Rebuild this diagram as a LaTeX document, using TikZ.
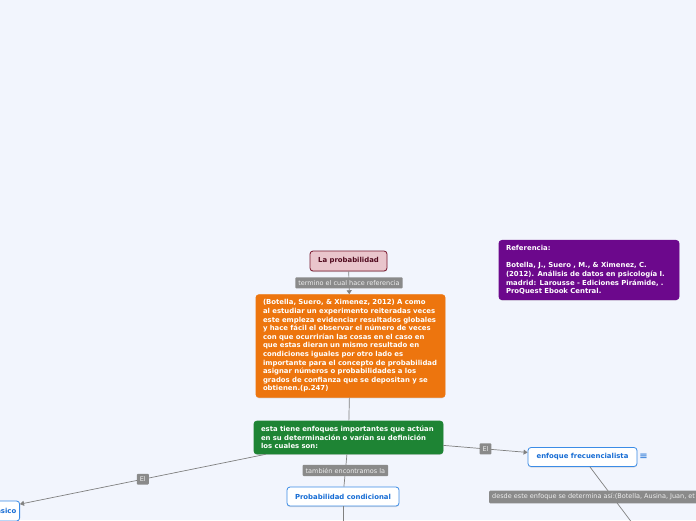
\documentclass[tikz,border=0pt]{standalone}
\usepackage{fontspec}
\setmainfont{DejaVu Sans}
\usetikzlibrary{arrows.meta,shadows}
\definecolor{pagebg}{RGB}{242,245,253}
\definecolor{linkgray}{RGB}{128,128,128}
\definecolor{lblgray}{RGB}{138,138,138}
\definecolor{lbltext}{RGB}{238,238,238}
\definecolor{rosefill}{RGB}{233,197,204}
\definecolor{rosedraw}{RGB}{120,22,45}
\definecolor{rosetext}{RGB}{80,10,30}
\definecolor{orangebox}{RGB}{237,117,14}
\definecolor{greenbox}{RGB}{30,132,52}
\definecolor{purplebox}{RGB}{108,8,140}
\definecolor{bluedraw}{RGB}{60,140,230}
\definecolor{bluetext}{RGB}{22,108,212}

\begin{document}
\begin{tikzpicture}[x=1pt,y=-1pt,
  box/.style={rectangle,rounded corners=3pt,line width=0.8pt,
    font=\fontsize{6.9}{8.6}\selectfont\bfseries,
    drop shadow={shadow xshift=0pt,shadow yshift=-1pt,opacity=0.25}},
  txtbox/.style n args={2}{box,draw=#1,fill=#1,text=white,text width=#2,
    align=left,inner xsep=7pt,inner ysep=5pt},
  topic/.style={box,draw=bluedraw,fill=white,text=bluetext,minimum height=19pt},
  link/.style={draw=linkgray,line width=0.7pt},
  tip/.style={-{Triangle[length=4pt,width=5pt]}},
  lbl/.style={fill=lblgray,text=lbltext,rounded corners=1pt,
    font=\fontsize{6.5}{7}\selectfont,inner xsep=3pt,inner ysep=3pt}]
\fill[pagebg] (0,0) rectangle (696,520);
\clip (0,0) rectangle (696,520);

% main topic and its chain
\node[box,draw=rosedraw,fill=rosefill,text=rosetext,minimum width=77pt,minimum height=20pt]
  (prob) at (348.5,261) {La probabilidad};
\node[txtbox={orangebox}{175pt}] (defin) at (350.5,346)
  {(Botella, Suero, \& Ximenez, 2012) A como\\
   al estudiar un experimento reiteradas veces\\
   este empleza evidenciar resultados globales\\
   y hace fácil el observar el número de veces\\
   con que ocurrirían las cosas en el caso en\\
   que estas dieran un mismo resultado en\\
   condiciones iguales por otro lado es\\
   importante para el concepto de probabilidad\\
   asignar números o probabilidades a los\\
   grados de confianza que se depositan y se\\
   obtienen.(p.247)};
\node[txtbox={greenbox}{175pt}] (enfoq) at (348.5,437.5)
  {esta tiene enfoques importantes que actúan\\
   en su determinación o varían su definición\\
   los cuales son:};
\node[topic,minimum width=112pt] (condic) at (343,496.5) {Probabilidad condicional};
\node[topic,minimum width=109pt] (frecu) at (582.5,457) {enfoque frecuencialista};
\node[text=bluetext,font=\fontsize{10}{10}\selectfont,inner sep=0pt] (frecunote)
  at (643.5,457) {≡};
\node[topic,anchor=east,minimum height=20pt] (clasic) at (20,511) {enfoque clásico};

% reference note
\node[txtbox={purplebox}{166pt}] (refer) at (589,270)
  {Referencia:\\[8.6pt]
   Botella, J., Suero , M., \& Ximenez, C.\\
   (2012). Análisis de datos en psicología I.\\
   madrid: Larousse - Ediciones Pirámide, .\\
   ProQuest Ebook Central.};

% connectors
\coordinate (condicend) at (343,540);
\coordinate (frecuend) at (660,560);
\draw[link,tip] (prob) -- node[lbl] {termino el cual hace referencia} (defin);
\draw[link] (defin) -- (enfoq);
\draw[link] (enfoq) -- node[lbl] {también encontramos la} (condic);
\draw[link] (condic) -- (condicend);
\draw[link,tip] (enfoq) -- node[lbl] {El} (clasic);
\draw[link,tip] (enfoq) -- node[lbl] {El} (frecu);
\draw[link] (frecu) -- (frecuend);
\node[lbl,anchor=west] (frecudesc) at (489,497)
  {desde este enfoque se determina así:(Botella, Ausina, Juan, et al.};
\end{tikzpicture}
\end{document}
